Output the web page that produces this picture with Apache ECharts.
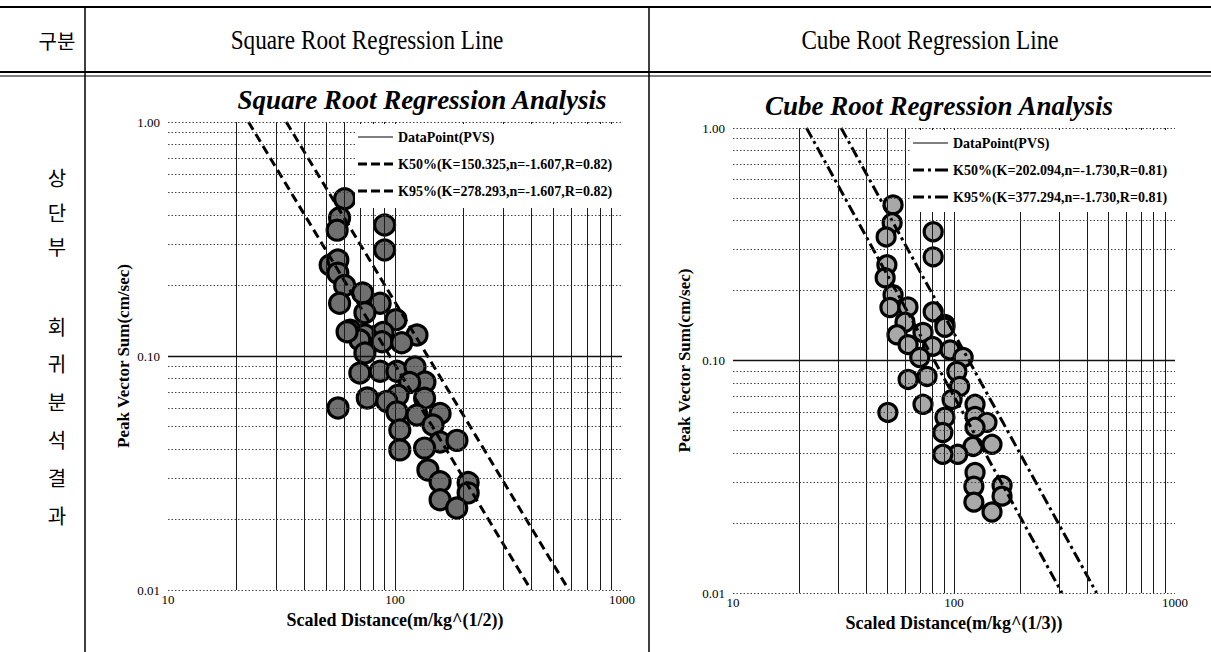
<!DOCTYPE html>
<html>
<head>
<meta charset="utf-8">
<script src="https://cdn.jsdelivr.net/npm/echarts@6/dist/echarts.min.js"></script>
<style>html,body{margin:0;padding:0;background:#fff;}#c{width:1211px;height:652px;}</style>
</head>
<body>
<div id="c"></div>
<script>
// ---------- data ----------
const leftSD  = [60,57,55.6,90,90,51.8,56,56,60,57,72,86,73.7,63.4,101,125,73.7,88.6,70,87.7,107,73.7,70,86,102,122.5,135.5,116,103,75.5,56.1,92,135,102,125,158,147,105,158,187.5,135,105,139.6,158,210,210,158,187,61.5];
const leftPPV = [0.47,0.39,0.345,0.363,0.284,0.245,0.257,0.226,0.2,0.168,0.186,0.168,0.153,0.129,0.143,0.123,0.123,0.126,0.117,0.115,0.114,0.103,0.0846,0.086,0.086,0.0897,0.0774,0.077,0.068,0.0662,0.06,0.064,0.066,0.0577,0.056,0.0568,0.0507,0.0483,0.0429,0.0436,0.0404,0.0397,0.0326,0.029,0.0288,0.026,0.0243,0.0224,0.127];
const rightSD  = [53,52.5,49.3,80.5,80.5,49.7,48.8,53,51.3,61.9,80.5,60,91,55.2,62,72.4,80,91,96,110,70,62,75.5,103,106,72.4,98,124.5,124.5,91,141,124.5,89,148.6,122,104,89,124.5,123,165,165,123,148.6,50.2];
const rightPPV = [0.467,0.391,0.34,0.358,0.279,0.258,0.227,0.192,0.169,0.17,0.162,0.146,0.143,0.129,0.117,0.132,0.115,0.139,0.111,0.103,0.103,0.0829,0.0854,0.0897,0.0773,0.0648,0.068,0.0648,0.0575,0.057,0.0542,0.0516,0.049,0.0436,0.0427,0.0395,0.0395,0.033,0.0288,0.029,0.0261,0.0246,0.0223,0.0598];
// regression line end points [SD, PPV]
const leftK50  = [[22.63,1.0],[397.5,0.01]];
const leftK95  = [[33.20,1.0],[583.3,0.01]];
const rightK50 = [[21.51,1.0],[308.1,0.01]];
const rightK95 = [[30.86,1.0],[442.0,0.01]];
const xGridValues = [20,30,40,50,60,70,80,90,100,200,300,400,500,600,700,800,900];
const yDottedValues = [0.01,0.02,0.03,0.04,0.05,0.06,0.07,0.08,0.09,0.2,0.3,0.4,0.5,0.6,0.7,0.8,0.9,1];
const ySolidValues = [0.1];
const leftNames = ['DataPoint(PVS)','K50%(K=150.325,n=-1.607,R=0.82)','K95%(K=278.293,n=-1.607,R=0.82)'];
const rightNames = ['DataPoint(PVS)','K50%(K=202.094,n=-1.730,R=0.81)','K95%(K=377.294,n=-1.730,R=0.81)'];
const headers = ['구분','Square Root Regression Line','Cube Root Regression Line'];
const sideChars = ['상','단','부','회','귀','분','석','결','과'];
const chartTitles = ['Square Root Regression Analysis','Cube Root Regression Analysis'];
const xNames = ['Scaled Distance(m/kg^(1/2))','Scaled Distance(m/kg^(1/3))'];
const yName = 'Peak Vector Sum(cm/sec)';

// ---------- helpers ----------
const zip = (a,b) => a.map((v,i)=>[v,b[i]]);
const SERIF = '"Liberation Serif","DejaVu Serif",serif';
const ICON_THIN = 'path://M0,0H35V1.2H0Z';
const ICON_DASH = 'path://M0,0H9V3.2H0Z M13,0H22V3.2H13Z M26,0H35V3.2H26Z';
const ICON_DASHDOT = 'path://M0,0H11V3.2H0Z M15,0H18V3.2H15Z M22,0H35V3.2H22Z';
function gridMarks(){
  const d = [];
  xGridValues.forEach(v=>d.push({xAxis:v, lineStyle:{type:'solid', color:'#1a1a1a', width:1}}));
  yDottedValues.forEach(v=>d.push({yAxis:v, lineStyle:{type:[1.5,2], color:'#444', width:1}}));
  ySolidValues.forEach(v=>d.push({yAxis:v, lineStyle:{type:'solid', color:'#111', width:1.3}}));
  return {silent:true, symbol:['none','none'], label:{show:false}, emphasis:{disabled:true}, animation:false, data:d};
}
function xAxisOpt(i, gap){
  return {type:'log', logBase:10, gridIndex:i, min:10, max:1000,
    axisLine:{show:false}, axisTick:{show:false}, splitLine:{show:false},
    axisLabel:{color:'#000', fontFamily:SERIF, fontSize:13, margin:3, formatter:v=>String(Math.round(v))},
    name:xNames[i], nameLocation:'middle', nameGap:gap,
    nameTextStyle:{color:'#000', fontFamily:SERIF, fontWeight:'bold', fontSize:18}};
}
function yAxisOpt(i, gap){
  return {type:'log', logBase:10, gridIndex:i, min:0.01, max:1,
    axisLine:{show:false}, axisTick:{show:false}, splitLine:{show:false},
    axisLabel:{color:'#000', fontFamily:SERIF, fontSize:13, margin:8, formatter:v=>Number(v).toFixed(2)},
    name:yName, nameLocation:'middle', nameGap:gap, nameRotate:90,
    nameTextStyle:{color:'#000', fontFamily:SERIF, fontWeight:'bold', fontSize:17}};
}
function legendOpt(names, left, top, lineIcon){
  return {orient:'vertical', left:left, top:top, selectedMode:false, z:20,
    padding:[8,8,8,3], itemGap:13, itemWidth:35, itemHeight:15,
    textStyle:{color:'#000', fontFamily:SERIF, fontWeight:'bold', fontSize:14},
    data:[
      {name:names[0], icon:ICON_THIN, itemStyle:{color:'#000', borderWidth:0}},
      {name:names[1], icon:lineIcon, itemStyle:{color:'#000', borderWidth:0}},
      {name:names[2], icon:lineIcon, itemStyle:{color:'#000', borderWidth:0}}
    ]};
}
function seriesFor(i, sd, ppv, k50, k95, names, fill, size, dash){
  return [
    {type:'line', name:'grid'+i, xAxisIndex:i, yAxisIndex:i, data:[], z:1, markLine:gridMarks()},
    {type:'scatter', name:names[0], xAxisIndex:i, yAxisIndex:i, data:zip(sd,ppv), symbol:'circle', symbolSize:size, z:3,
      itemStyle:{color:fill, borderColor:'#000', borderWidth:3.2, opacity:1}, emphasis:{disabled:true}},
    {type:'line', name:names[1], xAxisIndex:i, yAxisIndex:i, data:k50, symbol:'none', z:4, color:'#000',
      lineStyle:{color:'#000', width:3, type:dash}, emphasis:{disabled:true}},
    {type:'line', name:names[2], xAxisIndex:i, yAxisIndex:i, data:k95, symbol:'none', z:4, color:'#000',
      lineStyle:{color:'#000', width:3, type:dash}, emphasis:{disabled:true}}
  ];
}

// ---------- graphic (table frame, headers, legend boxes) ----------
const graphic = [
  {type:'line', shape:{x1:0,y1:7,x2:1211,y2:7}, style:{stroke:'#000', lineWidth:2}},
  {type:'line', shape:{x1:0,y1:72,x2:1211,y2:72}, style:{stroke:'#000', lineWidth:2}},
  {type:'line', shape:{x1:0,y1:76,x2:1211,y2:76}, style:{stroke:'#000', lineWidth:1}},
  {type:'line', shape:{x1:85,y1:7,x2:85,y2:652}, style:{stroke:'#000', lineWidth:1.5}},
  {type:'line', shape:{x1:649,y1:7,x2:649,y2:652}, style:{stroke:'#000', lineWidth:1.5}},
  {type:'rect', z:10, shape:{x:355,y:124,width:267,height:84}, style:{fill:'#fff', stroke:null}},
  {type:'rect', z:10, shape:{x:910,y:130,width:265,height:82}, style:{fill:'#fff', stroke:null}},
  {type:'text', x:57, y:40, style:{text:headers[0], font:'20px "Noto Sans CJK KR"', fill:'#000', align:'center', verticalAlign:'middle'}},
  {type:'text', x:367, y:40, scaleX:0.86, style:{text:headers[1], font:'27px '+SERIF, fill:'#000', align:'center', verticalAlign:'middle'}},
  {type:'text', x:930, y:40, scaleX:0.86, style:{text:headers[2], font:'27px '+SERIF, fill:'#000', align:'center', verticalAlign:'middle'}},
  {type:'text', x:422, y:100, style:{text:chartTitles[0], font:'italic bold 27px '+SERIF, fill:'#000', align:'center', verticalAlign:'middle'}},
  {type:'text', x:939, y:106, style:{text:chartTitles[1], font:'italic bold 27px '+SERIF, fill:'#000', align:'center', verticalAlign:'middle'}}
];
const sideY = [177,212,246,326,363,401,439,477,515];
sideChars.forEach((ch,i)=>graphic.push({type:'text', x:57, y:sideY[i],
  style:{text:ch, font:'20px "Noto Sans CJK KR"', fill:'#000', align:'center', verticalAlign:'middle'}}));

const option = {
  animation:false,
  backgroundColor:'#fff',
  grid:[{left:168, top:122, width:454, height:468}, {left:733, top:128, width:442, height:465}],
  xAxis:[xAxisOpt(0,18), xAxisOpt(1,21)],
  yAxis:[yAxisOpt(0,36), yAxisOpt(1,40)],
  legend:[legendOpt(leftNames,355,122,ICON_DASH), legendOpt(rightNames,910,128,ICON_DASHDOT)],
  series:[].concat(
    seriesFor(0,leftSD,leftPPV,leftK50,leftK95,leftNames,'#707070',20,[9,5]),
    seriesFor(1,rightSD,rightPPV,rightK50,rightK95,rightNames,'#a8a8a8',18,[11,4,3,4])
  ),
  graphic:graphic
};
const chart = echarts.init(document.getElementById('c'), null, {renderer:'svg', width:1211, height:652});
chart.setOption(option);
</script>
</body>
</html>
